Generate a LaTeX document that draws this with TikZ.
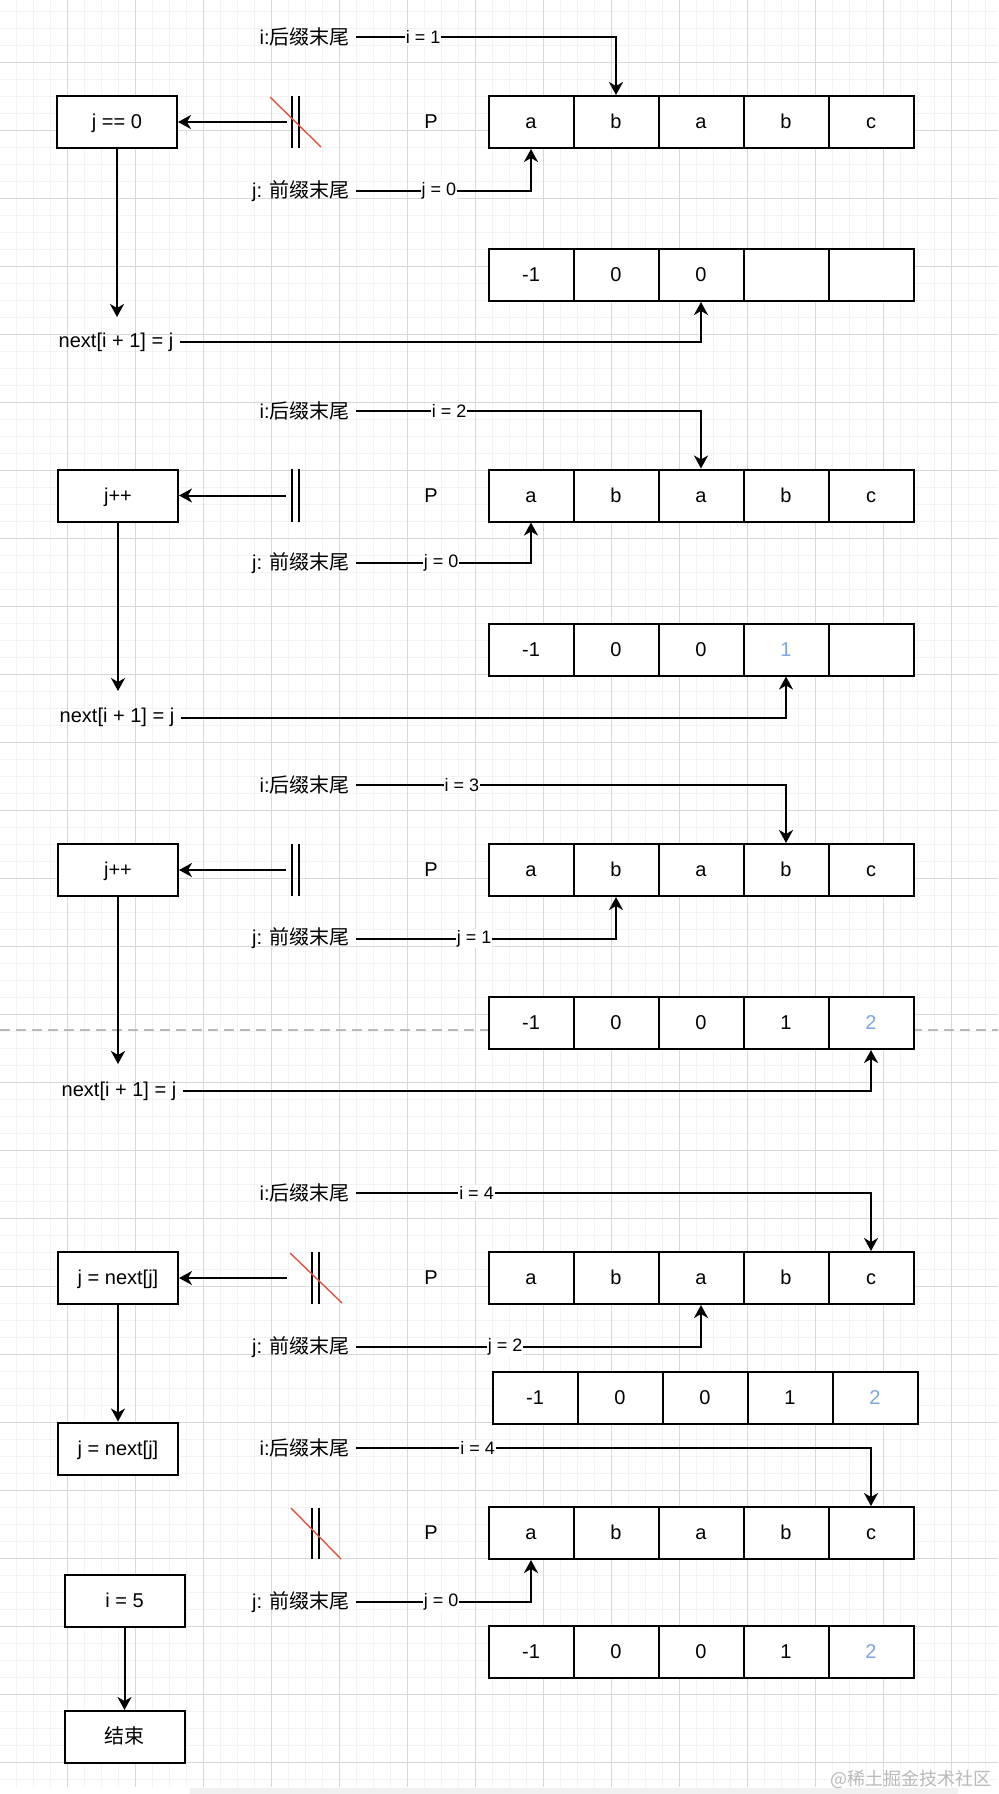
\documentclass[tikz,border=0pt]{standalone}
\usepackage{fontspec}
\setmainfont{Liberation Sans}
\newfontfamily\cjk{Noto Sans CJK SC}
\usepackage{tikz}
\usetikzlibrary{arrows.meta, positioning}
\usepackage{xcolor}
\definecolor{gridMinor}{RGB}{243,243,243}
\definecolor{gridMajor}{RGB}{216,216,216}
\definecolor{slashRed}{RGB}{226,82,64}
\definecolor{newBlue}{RGB}{126,166,224}

\begin{document}
\begin{tikzpicture}[
    x=0.5pt, y=-0.5pt,
    font=\fontsize{10pt}{12pt}\selectfont,
    stepBox/.style={draw, line width=1pt, fill=white, minimum width=60pt, minimum height=26pt, inner sep=0pt, text height=1.5ex, text depth=.25ex},
    cellNode/.style={draw, line width=1pt, fill=white, minimum width=42.5pt, minimum height=26pt, inner sep=0pt, text height=1.5ex, text depth=.25ex},
    noteText/.style={anchor=east, inner sep=3pt},
    edgeLabel/.style={fill=white, inner sep=0.5pt, font=\fontsize{9pt}{11pt}\selectfont},
    flowArrow/.style={-{Stealth[length=6.5pt, width=7pt, inset=2pt]}, line width=1pt},
    barLine/.style={line width=1pt},
    slashLine/.style={slashRed, line width=0.7pt},
    dashLine/.style={gray!55, line width=0.7pt, dash pattern=on 5pt off 3pt}
]
    % Canvas and grid
    \useasboundingbox (0,0) rectangle (998,1794);
    \fill[white] (0,0) rectangle (998,1794);
    \begin{scope}
        \clip (0,0) rectangle (998,1787);
        \foreach \gx in {16,33,...,1000} \draw[gridMinor, line width=0.5pt] (\gx,0) -- (\gx,1787);
        \foreach \gy in {11,28,...,1790} \draw[gridMinor, line width=0.5pt] (0,\gy) -- (998,\gy);
        \foreach \gx in {67,135,...,1000} \draw[gridMajor, line width=0.5pt] (\gx,0) -- (\gx,1787);
        \foreach \gy in {62,130,...,1790} \draw[gridMajor, line width=0.5pt] (0,\gy) -- (998,\gy);
    \end{scope}
    \fill[gray!12] (190,1788) rectangle (958,1794);
    \draw[dashLine] (0,1030) -- (998,1030);

    % Step 1: i = 1, j = 0
    \node[noteText] (iT1) at (356,37) {i:{\cjk 后缀末尾}};
    \node (pLab1) at (431,122) {P};
    \foreach \t [count=\k] in {a,b,a,b,c}
        \node[cellNode] (pat1-\k) at ({446+85*\k},122) {\t};
    \node[noteText] (jT1) at (356,191) {j: {\cjk 前缀末尾}};
    \foreach \t [count=\k] in {-1,0,0,{},{}}
        \node[cellNode] (nxt1-\k) at ({446+85*\k},275) {\t};
    \node[stepBox] (jz1) at (117,122) {j == 0};
    \node (nextT1) at (116,342) {next[i + 1] = j};
    \coordinate (cut1) at (287,122);
    \coordinate (down1) at (117,317);
    \draw[barLine] (292,96) -- (292,148) (299,96) -- (299,148);
    \draw[slashLine] (270,97) -- (321,147);
    \draw[flowArrow] (cut1) -- (jz1);
    \draw[flowArrow] (jz1) -- (down1);
    \draw[flowArrow] (iT1.east) -| node[edgeLabel, pos=0.129] {i = 1} (pat1-2.north);
    \draw[flowArrow] (jT1.east) -| node[edgeLabel, pos=0.237] {j = 0} (pat1-1.south);
    \draw[flowArrow] (nextT1.east) -| (nxt1-3.south);

    % Step 2: i = 2, j = 0
    \node[noteText] (iT2) at (356,411) {i:{\cjk 后缀末尾}};
    \node (pLab2) at (431,495.5) {P};
    \foreach \t [count=\k] in {a,b,a,b,c}
        \node[cellNode] (pat2-\k) at ({446+85*\k},495.5) {\t};
    \node[noteText] (jT2) at (356,563) {j: {\cjk 前缀末尾}};
    \foreach \t [count=\k] in {-1,0,0,\textcolor{newBlue}{1},{}}
        \node[cellNode] (nxt2-\k) at ({446+85*\k},649.5) {\t};
    \node[stepBox] (jpp2) at (118,495.5) {j++};
    \node (nextT2) at (117,717.5) {next[i + 1] = j};
    \coordinate (cut2) at (286,495.5);
    \coordinate (down2) at (118,691);
    \draw[barLine] (292,469) -- (292,522) (299,469) -- (299,522);
    \draw[flowArrow] (cut2) -- (jpp2);
    \draw[flowArrow] (jpp2) -- (down2);
    \draw[flowArrow] (iT2.east) -| node[edgeLabel, pos=0.135] {i = 2} (pat2-3.north);
    \draw[flowArrow] (jT2.east) -| node[edgeLabel, pos=0.243] {j = 0} (pat2-1.south);
    \draw[flowArrow] (nextT2.east) -| (nxt2-4.south);

    % Step 3: i = 3, j = 1
    \node[noteText] (iT3) at (356,785) {i:{\cjk 后缀末尾}};
    \node (pLab3) at (431,870) {P};
    \foreach \t [count=\k] in {a,b,a,b,c}
        \node[cellNode] (pat3-\k) at ({446+85*\k},870) {\t};
    \node[noteText] (jT3) at (356,938.5) {j: {\cjk 前缀末尾}};
    \foreach \t [count=\k] in {-1,0,0,1,\textcolor{newBlue}{2}}
        \node[cellNode] (nxt3-\k) at ({446+85*\k},1023) {\t};
    \node[stepBox] (jpp3) at (118,870) {j++};
    \node (nextT3) at (119,1091) {next[i + 1] = j};
    \coordinate (cut3) at (286,870);
    \coordinate (down3) at (118,1064);
    \draw[barLine] (292,844) -- (292,896) (299,844) -- (299,896);
    \draw[flowArrow] (cut3) -- (jpp3);
    \draw[flowArrow] (jpp3) -- (down3);
    \draw[flowArrow] (iT3.east) -| node[edgeLabel, pos=0.123] {i = 3} (pat3-4.north);
    \draw[flowArrow] (jT3.east) -| node[edgeLabel, pos=0.227] {j = 1} (pat3-2.south);
    \draw[flowArrow] (nextT3.east) -| (nxt3-5.south);

    % Step 4: i = 4, j = 2 (mismatch)
    \node[noteText] (iT4) at (356,1193) {i:{\cjk 后缀末尾}};
    \node (pLab4) at (431,1278) {P};
    \foreach \t [count=\k] in {a,b,a,b,c}
        \node[cellNode] (pat4-\k) at ({446+85*\k},1278) {\t};
    \node[noteText] (jT4) at (356,1347) {j: {\cjk 前缀末尾}};
    \foreach \t [count=\k] in {-1,0,0,1,\textcolor{newBlue}{2}}
        \node[cellNode] (nxt4-\k) at ({450+85*\k},1397.5) {\t};
    \node[stepBox] (jn4) at (118,1278) {j = next[j]};
    \node[stepBox] (jn4b) at (118,1448.5) {j = next[j]};
    \coordinate (cut4) at (287,1278);
    \draw[barLine] (312,1252) -- (312,1304) (319,1252) -- (319,1304);
    \draw[slashLine] (290,1253) -- (342,1303);
    \draw[flowArrow] (cut4) -- (jn4);
    \draw[flowArrow] (jn4) -- (jn4b);
    \draw[flowArrow] (iT4.east) -| node[edgeLabel, pos=0.117] {i = 4} (pat4-5.north);
    \draw[flowArrow] (jT4.east) -| node[edgeLabel, pos=0.216] {j = 2} (pat4-3.south);

    % Step 5: i = 4, j = 0 -> end
    \node[noteText] (iT5) at (356,1448) {i:{\cjk 后缀末尾}};
    \node (pLab5) at (431,1533) {P};
    \foreach \t [count=\k] in {a,b,a,b,c}
        \node[cellNode] (pat5-\k) at ({446+85*\k},1533) {\t};
    \node[noteText] (jT5) at (356,1602) {j: {\cjk 前缀末尾}};
    \foreach \t [count=\k] in {-1,0,0,1,\textcolor{newBlue}{2}}
        \node[cellNode] (nxt5-\k) at ({446+85*\k},1652) {\t};
    \draw[barLine] (312,1508) -- (312,1559) (319,1508) -- (319,1559);
    \draw[slashLine] (291,1508) -- (341,1559);
    \node[stepBox] (iFive) at (124.5,1600.5) {i = 5};
    \node[stepBox] (endBox) at (124.5,1737) {\cjk 结束};
    \draw[flowArrow] (iFive) -- (endBox);
    \draw[flowArrow] (iT5.east) -| node[edgeLabel, pos=0.118] {i = 4} (pat5-5.north);
    \draw[flowArrow] (jT5.east) -| node[edgeLabel, pos=0.243] {j = 0} (pat5-1.south);

    % Watermark
    \node[text=gray!55, font=\cjk\fontsize{9pt}{11pt}\selectfont] (wmark) at (911,1779) {@稀土掘金技术社区};
\end{tikzpicture}
\end{document}
